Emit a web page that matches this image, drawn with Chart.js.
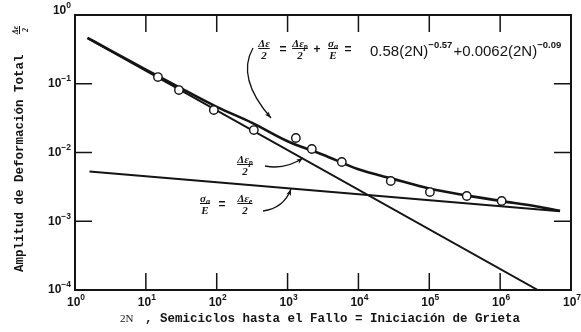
<!DOCTYPE html>
<html>
<head>
<meta charset="utf-8">
<script src="https://cdn.jsdelivr.net/npm/chart.js@4.4.1/dist/chart.umd.min.js"></script>
<style>
  html, body { margin: 0; padding: 0; background: #fff; }
  canvas { display: block; }
</style>
</head>
<body>
<canvas id="grafica" width="581" height="332"></canvas>
<script>
// valores
const ciclosCurva = [1.5, 3.16, 10, 31.6, 100, 316, 1000, 3160, 1e4, 3.16e4, 1e5, 3.16e5, 1e6, 3.16e6, 7e6];
const deformTotal = [0.466, 0.306, 0.161, 0.0855, 0.0461, 0.027, 0.0146, 0.0093, 0.0057, 0.0041, 0.003, 0.0024, 0.00198, 0.00165, 0.00142];

const ciclosPlastica = [1.5, 3.4e6];
const deformPlastica = [0.46, 1e-4];

const ciclosElastica = [1.6, 7e6];
const deformElastica = [0.0053, 0.0014];

const ciclosEnsayo = [14.8, 29.3, 91, 334, 1309, 2200, 5830, 28600, 1.02e5, 3.38e5, 1.05e6];
const deformEnsayo = [0.125, 0.081, 0.0415, 0.0212, 0.01625, 0.01125, 0.00728, 0.00385, 0.00266, 0.00233, 0.00197];

const expX = [0, 1, 2, 3, 4, 5, 6, 7];
const expY = [-4, -3, -2, -1, 0];

const NEGRO = '#141414';
const SANS = '"Liberation Sans", Arial, sans-serif';
const pares = (xs, ys) => xs.map((v, i) => ({ x: v, y: ys[i] }));

// dibuja "10" con exponente
function potencia(ctx, e, x, y, alinear) {
  const exp = e < 0 ? '\u2212' + Math.abs(e) : String(e);
  ctx.font = 'bold 12px ' + SANS;
  const wb = ctx.measureText('10').width;
  ctx.font = 'bold 8.5px ' + SANS;
  const we = ctx.measureText(exp).width;
  const total = wb + we;
  const x0 = alinear === 'right' ? x - total : x - total / 2;
  ctx.textAlign = 'left';
  ctx.textBaseline = 'middle';
  ctx.font = 'bold 12px ' + SANS;
  ctx.fillText('10', x0, y);
  ctx.font = 'bold 8.5px ' + SANS;
  ctx.fillText(exp, x0 + wb, y - 5);
}

// fraccion: numerador (con subindice opcional) sobre denominador
function fraccion(ctx, num, sub, den, cx, cy, tam) {
  ctx.textBaseline = 'alphabetic';
  ctx.textAlign = 'left';
  const f = 'italic bold ' + tam + 'px "Liberation Serif", serif';
  const fs = 'italic bold ' + (tam * 0.75) + 'px "Liberation Serif", serif';
  ctx.font = f;
  const wn = ctx.measureText(num).width;
  ctx.font = fs;
  const ws = sub ? ctx.measureText(sub).width : 0;
  const ancho = Math.max(wn + ws, 8);
  ctx.font = f;
  ctx.fillText(num, cx - (wn + ws) / 2, cy - 2.5);
  if (sub) {
    ctx.font = fs;
    ctx.fillText(sub, cx - (wn + ws) / 2 + wn, cy - 0.5);
  }
  ctx.font = f;
  const wd = ctx.measureText(den).width;
  ctx.fillText(den, cx - wd / 2, cy + tam * 0.85 + 1);
  ctx.lineWidth = 1;
  ctx.beginPath();
  ctx.moveTo(cx - ancho / 2, cy - 0.5);
  ctx.lineTo(cx + ancho / 2, cy - 0.5);
  ctx.stroke();
}

function signo(ctx, s, x, y) {
  ctx.font = 'bold 12px ' + SANS;
  ctx.textBaseline = 'middle';
  ctx.textAlign = 'center';
  ctx.fillText(s, x, y);
}

// flecha curva con punta rellena
function flecha(ctx, x0, y0, cx, cy, x1, y1) {
  ctx.lineWidth = 1.3;
  ctx.beginPath();
  ctx.moveTo(x0, y0);
  ctx.quadraticCurveTo(cx, cy, x1, y1);
  ctx.stroke();
  const ang = Math.atan2(y1 - cy, x1 - cx);
  ctx.beginPath();
  ctx.moveTo(x1, y1);
  ctx.lineTo(x1 - 7 * Math.cos(ang - 0.35), y1 - 7 * Math.sin(ang - 0.35));
  ctx.lineTo(x1 - 5 * Math.cos(ang), y1 - 5 * Math.sin(ang));
  ctx.lineTo(x1 - 7 * Math.cos(ang + 0.35), y1 - 7 * Math.sin(ang + 0.35));
  ctx.closePath();
  ctx.fill();
}

const marco = {
  id: 'marco',
  afterDraw(chart) {
    const { ctx, chartArea: a, scales: { x, y } } = chart;
    ctx.save();
    ctx.strokeStyle = NEGRO;
    ctx.fillStyle = NEGRO;

    // marco
    ctx.lineWidth = 2;
    ctx.strokeRect(a.left, a.top, a.right - a.left, a.bottom - a.top);

    // marcas interiores en las decadas
    ctx.lineWidth = 1.5;
    ctx.beginPath();
    expX.slice(1, -1).forEach(e => {
      const px = x.getPixelForValue(Math.pow(10, e));
      ctx.moveTo(px, a.bottom); ctx.lineTo(px, a.bottom - 17);
      ctx.moveTo(px, a.top); ctx.lineTo(px, a.top + 17);
    });
    expY.slice(1, -1).forEach(e => {
      const py = y.getPixelForValue(Math.pow(10, e));
      ctx.moveTo(a.left, py); ctx.lineTo(a.left + 17, py);
      ctx.moveTo(a.right, py); ctx.lineTo(a.right - 17, py);
    });
    ctx.stroke();

    // etiquetas de los ejes
    expX.forEach(e => potencia(ctx, e, x.getPixelForValue(Math.pow(10, e)) + 1, a.bottom + 13, 'center'));
    expY.forEach(e => potencia(ctx, e, a.left - 4, y.getPixelForValue(Math.pow(10, e)) - (e === 0 ? 4 : 0), 'right'));

    // titulo eje x
    ctx.textBaseline = 'middle';
    ctx.textAlign = 'left';
    ctx.font = '11px "Liberation Serif", serif';
    ctx.fillText('2N', 120, 319);
    ctx.font = 'bold 12.5px "Liberation Mono", monospace';
    ctx.fillText(', Semiciclos hasta el Fallo = Iniciación de Grieta', 145, 319);

    // titulo eje y
    ctx.save();
    ctx.translate(20, 272);
    ctx.rotate(-Math.PI / 2);
    ctx.font = 'bold 12.5px "Liberation Mono", monospace';
    ctx.textBaseline = 'middle';
    ctx.fillText('Amplitud de Deformación Total', 0, 0);
    fraccion(ctx, 'Δε', '', '2', 242, 0, 8);
    ctx.restore();

    // ecuacion superior
    fraccion(ctx, 'Δε', '', '2', 264, 49, 11);
    signo(ctx, '=', 283, 50);
    fraccion(ctx, 'Δε', 'p', '2', 300, 49, 11);
    signo(ctx, '+', 317, 50);
    fraccion(ctx, 'σ', 'a', 'E', 333, 49, 11);
    signo(ctx, '=', 348, 50);

    let cx = 370;
    const trozos = [['0.58(2N)', 0], ['\u22120.57', 1], ['+0.0062(2N)', 0], ['\u22120.09', 1]];
    ctx.textAlign = 'left';
    ctx.textBaseline = 'middle';
    trozos.forEach(([t, sup]) => {
      ctx.font = sup ? 'bold 9.5px ' + SANS : '15px ' + SANS;
      ctx.fillText(t, cx, sup ? 45 : 52);
      cx += ctx.measureText(t).width + (sup ? 1 : 0);
    });

    // etiquetas de las rectas
    fraccion(ctx, 'Δε', 'p', '2', 245, 165, 11);
    fraccion(ctx, 'σ', 'a', 'E', 205, 204, 11);
    signo(ctx, '=', 222, 205);
    fraccion(ctx, 'Δε', 'e', '2', 245, 204, 11);

    // flechas
    flecha(ctx, 253, 48, 236, 78, 271, 118);
    flecha(ctx, 265, 166, 285, 170, 303, 158);
    flecha(ctx, 263, 211, 284, 208, 291, 189);

    ctx.restore();
  }
};

new Chart(document.getElementById('grafica'), {
  type: 'line',
  data: {
    datasets: [
      {
        label: 'Ensayos',
        data: pares(ciclosEnsayo, deformEnsayo),
        showLine: false,
        pointRadius: 4.2,
        pointBackgroundColor: '#fff',
        pointBorderColor: NEGRO,
        pointBorderWidth: 1.4
      },
      {
        label: 'Total',
        data: pares(ciclosCurva, deformTotal),
        borderColor: NEGRO,
        borderWidth: 2.6,
        pointRadius: 0,
        cubicInterpolationMode: 'monotone'
      },
      {
        label: 'Plastica',
        data: pares(ciclosPlastica, deformPlastica),
        borderColor: NEGRO,
        borderWidth: 2,
        pointRadius: 0
      },
      {
        label: 'Elastica',
        data: pares(ciclosElastica, deformElastica),
        borderColor: NEGRO,
        borderWidth: 2,
        pointRadius: 0
      }
    ]
  },
  options: {
    responsive: false,
    animation: false,
    layout: { padding: { top: 15, right: 10, left: 0, bottom: 0 } },
    plugins: {
      legend: { display: false },
      tooltip: { enabled: false }
    },
    scales: {
      x: {
        type: 'logarithmic',
        min: 1,
        max: 1e7,
        grid: { display: false },
        border: { display: false },
        ticks: { display: false },
        afterFit: s => { s.height = 42; }
      },
      y: {
        type: 'logarithmic',
        min: 1e-4,
        max: 1,
        grid: { display: false },
        border: { display: false },
        ticks: { display: false },
        afterFit: s => { s.width = 75; }
      }
    }
  },
  plugins: [marco]
});
</script>
</body>
</html>
